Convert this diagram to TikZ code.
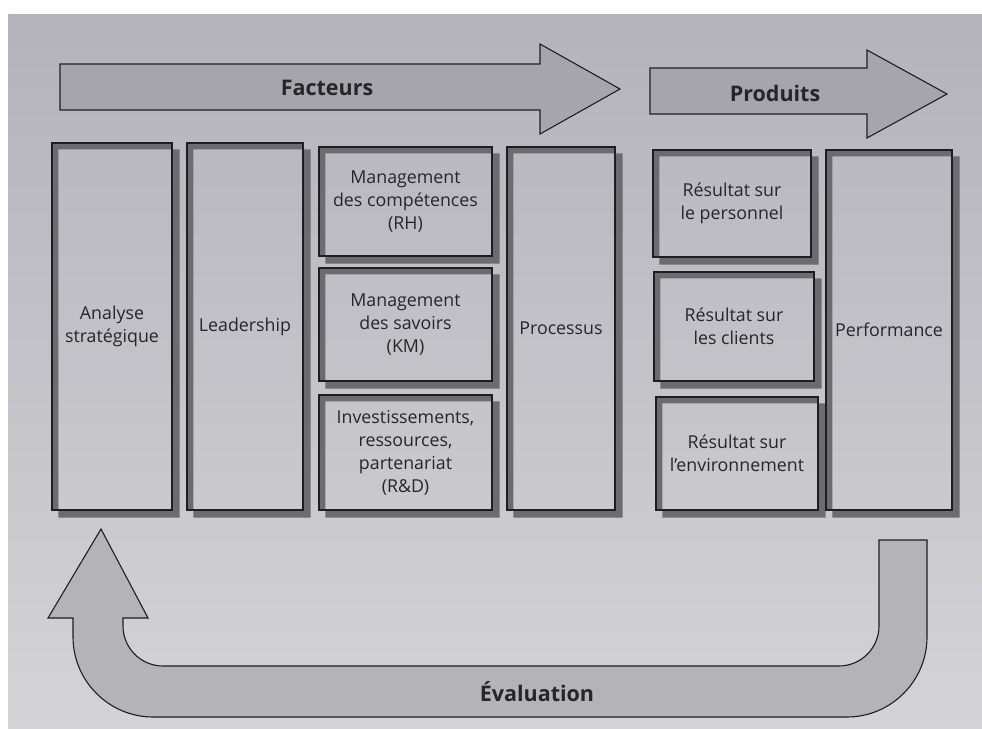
\documentclass[tikz,border=0pt]{standalone}
\usepackage{fontspec}
\setmainfont{Open Sans}
\usetikzlibrary{backgrounds}
\definecolor{bgtop}{RGB}{180,178,187}
\definecolor{bgbot}{RGB}{212,212,214}
\definecolor{arrowc}{RGB}{166,165,172}
\definecolor{uarrowc}{RGB}{180,180,183}
\definecolor{shadowc}{RGB}{108,107,112}
\definecolor{inkc}{RGB}{38,38,42}
\definecolor{linec}{RGB}{30,30,34}
\tikzset{
  box/.style={draw=linec, line width=1.1pt, align=center, text=inkc,
    font=\fontsize{17.8}{23}\selectfont, inner sep=2pt},
  bigarrow/.style={draw=linec, line width=1.1pt, fill=arrowc},
  biglabel/.style={text=inkc, font=\fontsize{21.5}{24}\selectfont\bfseries}
}
\begin{document}
\begin{tikzpicture}[x=1pt,y=-1pt]
\useasboundingbox (0,0) rectangle (982,728);
\begin{pgfonlayer}{background}
\fill[white] (0,0) rectangle (982,728);
\shade[top color=bgtop, bottom color=bgbot] (8,14) rectangle (982,728);
\end{pgfonlayer}

% top arrows
\draw[bigarrow] (60,64) -- (540,64) -- (540,44) -- (620,89) -- (540,134) -- (540,110) -- (60,110) -- cycle;
\node[biglabel] (fac) at (327,88) {Facteurs};
\draw[bigarrow] (650,68) -- (867,68) -- (867,50) -- (947,94) -- (867,138) -- (867,114) -- (650,114) -- cycle;
\node[biglabel] (prod) at (775,93) {Produits};

% boxes
\node[box, minimum width=120pt, minimum height=367pt] (as) at (112,326.5) {Analyse\\strat\'egique};
\node[box, minimum width=116pt, minimum height=367pt] (ld) at (245,326.5) {Leadership};
\node[box, minimum width=173pt, minimum height=109pt] (mc) at (405.5,201.5) {Management\\des comp\'etences\\(RH)};
\node[box, minimum width=173pt, minimum height=113pt] (ms) at (405.5,324.5) {Management\\des savoirs\\(KM)};
\node[box, minimum width=173pt, minimum height=115pt] (ir) at (405.5,452.5) {Investissements,\\ressources,\\partenariat\\(R\&D)};
\node[box, minimum width=108pt, minimum height=363pt] (pr) at (561,328.5) {Processus};
\node[box, minimum width=158pt, minimum height=107pt] (rp) at (732,203.5) {R\'esultat sur\\le personnel};
\node[box, minimum width=160pt, minimum height=109pt] (rc) at (734,326.5) {R\'esultat sur\\les clients};
\node[box, minimum width=162pt, minimum height=113pt] (re) at (737,453.5) {R\'esultat sur\\l'environnement};
\node[box, minimum width=126pt, minimum height=360pt] (pf) at (889,330) {Performance};

\begin{pgfonlayer}{background}
\foreach \n in {as,ld,mc,ms,ir,pr,rp,rc,re,pf}{
  \fill[shadowc, even odd rule]
    ([shift={(7pt,-7pt)}]\n.south west) rectangle ([shift={(7pt,-7pt)}]\n.north east)
    (\n.south west) rectangle (\n.north east);
}
\end{pgfonlayer}

% evaluation U-arrow
\draw[draw=linec, line width=1.1pt, fill=uarrowc]
  (101,529) -- (148,618) -- (123,618) -- (123,626)
  .. controls (123,648) and (141,666) .. (163,666)
  -- (839,666)
  .. controls (861,666) and (879,648) .. (879,626)
  -- (879,540) -- (927,540) -- (927,637)
  .. controls (927,681) and (891,717) .. (847,717)
  -- (153,717)
  .. controls (109,717) and (73,681) .. (73,637)
  -- (73,618) -- (48,618) -- cycle;
\node[biglabel] (ev) at (537,692) {\'Evaluation};
\end{tikzpicture}
\end{document}
